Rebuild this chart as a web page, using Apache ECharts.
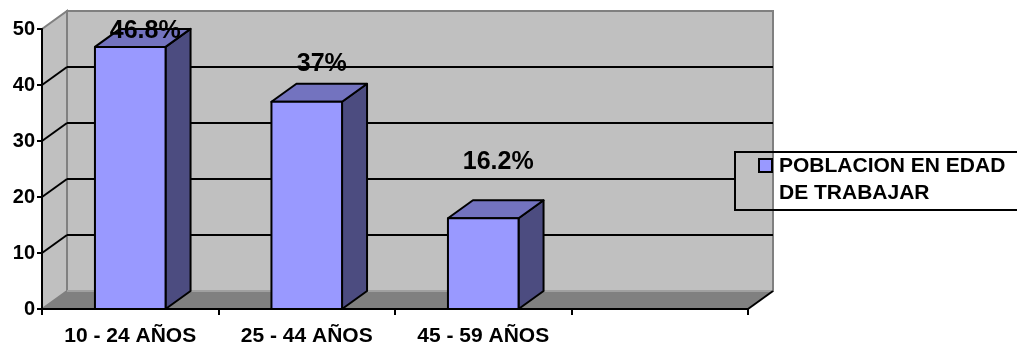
<!DOCTYPE html>
<html>
<head>
<meta charset="utf-8">
<script src="https://cdn.jsdelivr.net/npm/echarts@6/dist/echarts.min.js"></script>
<style>
html, body { margin: 0; padding: 0; background: #fff; }
#main { width: 1017px; height: 345px; }
</style>
</head>
<body>
<div id="main"></div>
<script>
var categories = ['10 - 24 AÑOS', '25 - 44 AÑOS', '45 - 59 AÑOS', ''];
var values = [46.8, 37, 16.2];
var valueLabels = ['46.8%', '37%', '16.2%'];
var yTicks = [0, 10, 20, 30, 40, 50];
var seriesName = 'POBLACION EN EDAD\nDE TRABAJAR';

// 3d depth of the excel-like box
var DX = 25, DY = -18;
// excel put the data labels at odd heights, keep them where they were
var labelOffsets = [[15, -16], [15, -38], [15, -56]];
var FONT = '"Liberation Sans", Arial, sans-serif';

var chart = echarts.init(document.getElementById('main'));

function line(x1, y1, x2, y2, color) {
    return {
        type: 'line',
        shape: { x1: x1, y1: y1, x2: x2, y2: y2 },
        style: { stroke: color, lineWidth: 2 }
    };
}

function renderWalls(params, api) {
    var cs = params.coordSys;
    var x0 = cs.x, x1 = cs.x + cs.width;
    var yTop = cs.y, yBot = cs.y + cs.height;
    var children = [];
    // back wall
    children.push({
        type: 'rect',
        shape: { x: x0 + DX, y: yTop + DY, width: cs.width, height: cs.height },
        style: { fill: '#c0c0c0', stroke: '#808080', lineWidth: 2 }
    });
    // left wall
    children.push({
        type: 'polygon',
        shape: { points: [[x0, yBot], [x0, yTop], [x0 + DX, yTop + DY], [x0 + DX, yBot + DY]] },
        style: { fill: '#c0c0c0', stroke: '#808080', lineWidth: 2 }
    });
    // floor
    children.push({
        type: 'polygon',
        shape: { points: [[x0, yBot], [x1, yBot], [x1 + DX, yBot + DY], [x0 + DX, yBot + DY]] },
        style: { fill: '#808080' }
    });
    children.push(line(x0 + DX, yBot + DY, x1 + DX, yBot + DY, '#a0a0a0'));
    children.push(line(x1, yBot, x1 + DX, yBot + DY, '#000'));
    // grid lines on the walls
    yTicks.forEach(function (v) {
        if (v === yTicks[0] || v === yTicks[yTicks.length - 1]) return;
        var y = api.coord([0, v])[1];
        children.push(line(x0, y, x0 + DX, y + DY, '#000'));
        children.push(line(x0 + DX, y + DY, x1 + DX, y + DY, '#000'));
    });
    return { type: 'group', children: children };
}

function renderBar(params, api) {
    var i = api.value(0);
    var top = api.coord([i, api.value(1)]);
    var base = api.coord([i, 0]);
    var w = api.size([1, 0])[0] * 0.4;
    var xl = top[0] - w / 2, xr = top[0] + w / 2;
    var yt = top[1], yb = base[1];
    var edge = { stroke: '#000', lineWidth: 2, lineJoin: 'round' };
    var off = labelOffsets[params.dataIndex];
    return {
        type: 'group',
        children: [
            {
                type: 'polygon',
                shape: { points: [[xr, yt], [xr + DX, yt + DY], [xr + DX, yb + DY], [xr, yb]] },
                style: Object.assign({ fill: '#4c4c80' }, edge)
            },
            {
                type: 'polygon',
                shape: { points: [[xl, yt], [xr, yt], [xr + DX, yt + DY], [xl + DX, yt + DY]] },
                style: Object.assign({ fill: '#7373bf' }, edge)
            },
            {
                type: 'rect',
                shape: { x: xl, y: yt, width: w, height: yb - yt },
                style: Object.assign({ fill: '#9999ff' }, edge)
            },
            {
                type: 'text',
                z2: 10,
                style: {
                    text: valueLabels[params.dataIndex],
                    x: top[0] + off[0],
                    y: yt + off[1],
                    align: 'center',
                    verticalAlign: 'middle',
                    font: 'bold 25px ' + FONT,
                    fill: '#000'
                }
            }
        ]
    };
}

var option = {
    animation: false,
    grid: { left: 42, right: 269, top: 29, bottom: 36, outerBoundsMode: 'none', containLabel: false },
    xAxis: {
        type: 'category',
        data: categories,
        z: 10,
        axisLine: { lineStyle: { color: '#000', width: 2 } },
        axisTick: { show: true, length: 6, lineStyle: { color: '#000', width: 2 } },
        axisLabel: {
            color: '#000', fontSize: 21, fontWeight: 'bold', fontFamily: FONT, margin: 17
        }
    },
    yAxis: {
        type: 'value',
        min: 0,
        max: 50,
        interval: 10,
        z: 10,
        axisLine: { show: true, lineStyle: { color: '#000', width: 2 } },
        axisTick: { show: true, length: 5, lineStyle: { color: '#000', width: 2 } },
        axisLabel: {
            color: '#000', fontSize: 20, fontWeight: 'bold', fontFamily: FONT, margin: 7
        },
        splitLine: { show: false }
    },
    // legend box drawn by hand: excel lets the wall show through its left part
    graphic: [
        {
            type: 'rect',
            z: 100,
            shape: { x: 772, y: 153, width: 260, height: 56 },
            style: { fill: '#fff' }
        },
        {
            type: 'rect',
            z: 100,
            shape: { x: 736, y: 153, width: 36, height: 56 },
            style: { fill: '#c0c0c0' }
        },
        {
            type: 'line',
            z: 100,
            shape: { x1: 773, y1: 153, x2: 773, y2: 209 },
            style: { stroke: '#808080', lineWidth: 2 }
        },
        {
            type: 'rect',
            z: 101,
            shape: { x: 735, y: 152, width: 300, height: 58 },
            style: { fill: 'none', stroke: '#000', lineWidth: 2 }
        },
        {
            type: 'rect',
            z: 101,
            shape: { x: 759, y: 159, width: 13, height: 13 },
            style: { fill: '#9999ff', stroke: '#000', lineWidth: 2 }
        },
        {
            type: 'text',
            z: 101,
            style: {
                text: seriesName,
                x: 779,
                y: 153,
                verticalAlign: 'top',
                lineHeight: 27,
                font: 'bold 21px ' + FONT,
                fill: '#000'
            }
        }
    ],
    series: [
        {
            name: 'walls',
            type: 'custom',
            z: 1,
            silent: true,
            renderItem: renderWalls,
            data: [[0, 0]]
        },
        {
            name: seriesName,
            type: 'custom',
            z: 3,
            renderItem: renderBar,
            data: values.map(function (v, i) { return [i, v]; })
        }
    ]
};

chart.setOption(option);
</script>
</body>
</html>
